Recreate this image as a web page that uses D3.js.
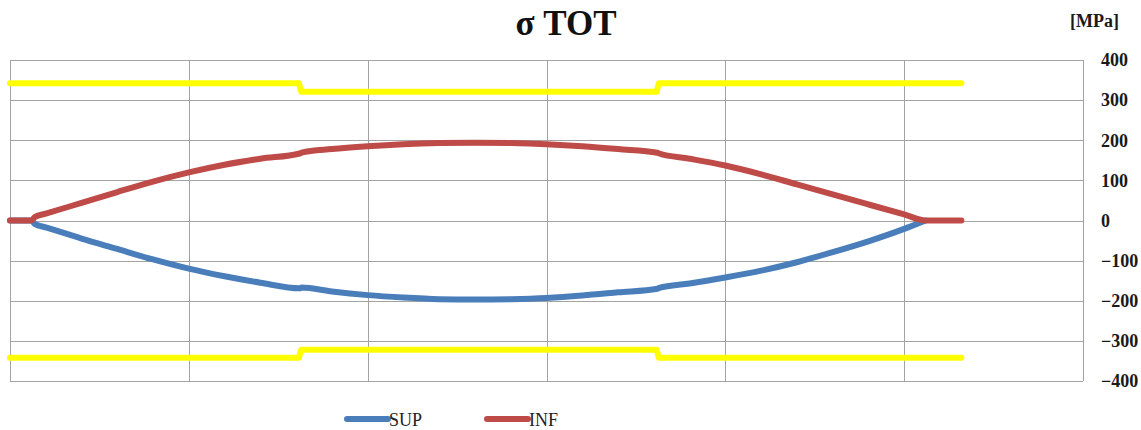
<!DOCTYPE html>
<html>
<head>
<meta charset="utf-8">
<script src="https://cdn.jsdelivr.net/npm/d3@7"></script>
<style>
  html, body { margin: 0; padding: 0; background: #fff; }
  svg { display: block; }
</style>
</head>
<body>
<svg id="chart" width="1141" height="430"></svg>
<script>
// Stress along the beam [MPa], abscissa in metres
const sup = [
  [0, 0], [0.6, 0], [0.7, -9], [1, -17], [2, -45], [3, -71], [4, -97], [5, -120],
  [6, -139], [7, -155], [8.1, -169], [8.15, -167], [9, -177], [10, -186], [11, -192],
  [12, -196], [13, -197], [14, -196], [15, -193], [16, -187], [17, -179], [18.1, -170],
  [18.15, -168], [19, -157], [20, -142], [21, -125], [22, -104], [23, -79], [24, -52],
  [25, -21], [25.6, 0]
];
const inf = [
  [0, 0], [0.6, 0], [0.7, 9], [1, 17], [2, 44], [3, 71], [4, 97], [5, 120],
  [6, 139], [7, 154], [8.1, 167], [8.15, 169], [9, 178], [10, 185], [11, 190],
  [12, 193], [13, 194], [14, 193], [15, 190], [16, 185], [17, 178], [18.1, 169],
  [18.15, 167], [19, 154], [20, 137], [21, 115], [22, 90], [23, 65], [24, 40],
  [25, 15], [25.6, 0], [26.6, 0]
];
const limitUpper = [[0, 342], [8.08, 342], [8.14, 321], [18.08, 321], [18.14, 342], [26.6, 342]];
const limitLower = [[0, -342], [8.08, -342], [8.14, -322], [18.08, -322], [18.14, -342], [26.6, -342]];

const yTicks = [400, 300, 200, 100, 0, -100, -200, -300, -400];
const xGrid = [0, 5, 10, 15, 20, 25, 30];
const legendItems = ["SUP", "INF"];

const title = "σ TOT";
const unit = "[MPa]";

const colors = { SUP: "#4a7ebb", INF: "#be4b48", limit: "#ffff00" };

const svg = d3.select("#chart");
const x = d3.scaleLinear().domain([0, 30]).range([10, 1083]);
const y = d3.scaleLinear().domain([-400, 400]).range([381, 60]);

// grid
const grid = svg.append("g").attr("stroke", "#a3a3a3").attr("stroke-width", 1);
grid.selectAll(".h").data(yTicks).join("line")
  .attr("x1", x(0)).attr("x2", x(30))
  .attr("y1", d => Math.round(y(d)) + 0.5).attr("y2", d => Math.round(y(d)) + 0.5);
grid.selectAll(".v").data(xGrid).join("line")
  .attr("y1", y(400)).attr("y2", y(-400))
  .attr("x1", d => Math.round(x(d)) + 0.5).attr("x2", d => Math.round(x(d)) + 0.5);

// right axis labels
const axis = svg.append("g")
  .attr("transform", `translate(${x(30)},0)`)
  .call(d3.axisRight(y).tickValues(yTicks).tickSize(0).tickPadding(18));
axis.select(".domain").remove();
axis.selectAll("text")
  .attr("font-family", "'Liberation Serif', 'Times New Roman', serif")
  .attr("font-weight", "bold")
  .attr("font-size", 18)
  .attr("fill", "#1a1a1a");

// series
const smooth = d3.line().x(d => x(d[0])).y(d => y(d[1])).curve(d3.curveMonotoneX);
const straight = d3.line().x(d => x(d[0])).y(d => y(d[1]));

const lines = svg.append("g").attr("fill", "none")
  .attr("stroke-linecap", "round").attr("stroke-linejoin", "round");
[limitUpper, limitLower].forEach(s => {
  lines.append("path").attr("d", straight(s))
    .attr("stroke", colors.limit).attr("stroke-width", 6);
});
lines.append("path").attr("d", smooth(sup))
  .attr("stroke", colors.SUP).attr("stroke-width", 6);
lines.append("path").attr("d", smooth(inf))
  .attr("stroke", colors.INF).attr("stroke-width", 6);

// titles
svg.append("text")
  .attr("x", 566).attr("y", 35)
  .attr("text-anchor", "middle")
  .attr("font-family", "'Liberation Serif', 'Times New Roman', serif")
  .attr("font-weight", "bold").attr("font-size", 35)
  .attr("fill", "#111")
  .text(title);
svg.append("text")
  .attr("x", 1070).attr("y", 27)
  .attr("font-family", "'Liberation Serif', 'Times New Roman', serif")
  .attr("font-weight", "bold").attr("font-size", 18)
  .attr("fill", "#1a1a1a")
  .text(unit);

// legend
const legendX = d3.scalePoint().domain(legendItems).range([347, 487]);
const lg = svg.append("g").selectAll("g").data(legendItems).join("g")
  .attr("transform", d => `translate(${legendX(d)},419)`);
lg.append("line")
  .attr("x1", 0).attr("x2", 41).attr("y1", 0).attr("y2", 0)
  .attr("stroke", d => colors[d]).attr("stroke-width", 6).attr("stroke-linecap", "round");
lg.append("text")
  .attr("x", 42).attr("y", 7)
  .attr("font-family", "'Liberation Serif', 'Times New Roman', serif")
  .attr("font-size", 18).attr("fill", "#222")
  .text(d => d);
</script>
</body>
</html>
